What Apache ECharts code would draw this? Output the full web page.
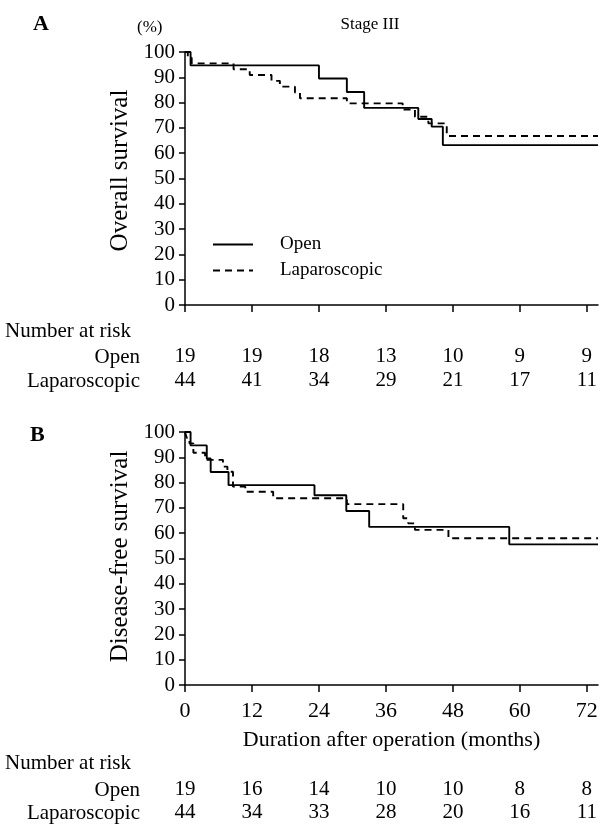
<!DOCTYPE html>
<html>
<head>
<meta charset="utf-8">
<script src="https://cdn.jsdelivr.net/npm/echarts@6/dist/echarts.min.js"></script>
<style>
html,body{margin:0;padding:0;background:#fff;}
#c{width:603px;height:825px;}
</style>
</head>
<body>
<div id="c"></div>
<script>
// ---- data ----
const timeTicks = [0, 12, 24, 36, 48, 60, 72];
const yTicks = [0, 10, 20, 30, 40, 50, 60, 70, 80, 90, 100];

// Panel A: overall survival
const osOpenT = [0, 1.0, 24, 29, 32.1, 41.8, 44.2, 46.2, 74];
const osOpenS = [100, 94.7, 89.5, 84.2, 77.9, 73.5, 70.5, 63.2, 63.2];
const osLapT = [0, 0.5, 1.2, 8.7, 11.6, 15.5, 17.0, 19.7, 20.6, 29, 39.0, 41.2, 43.6, 46.9, 74];
const osLapS = [100, 97.7, 95.5, 93.2, 90.9, 88.6, 86.3, 84.0, 81.7, 79.7, 77.3, 74.4, 71.8, 66.8, 66.8];

// Panel B: disease-free survival
const dfsOpenT = [0, 1.0, 3.9, 4.6, 7.8, 23.2, 28.9, 33.0, 58.1, 74];
const dfsOpenS = [100, 94.7, 89.5, 84.2, 79.0, 75.0, 68.8, 62.5, 55.6, 55.6];
const dfsLapT = [0, 0.3, 0.8, 1.5, 3.6, 6.8, 7.6, 8.6, 10.8, 15.8, 29, 39.1, 40.0, 41.2, 47.2, 74];
const dfsLapS = [100, 97.7, 95.5, 91.8, 89.0, 86.3, 84.3, 78.4, 76.4, 73.8, 71.5, 65.9, 63.9, 61.3, 58.0, 58.0];

// Numbers at risk
const riskOpenA = [19, 19, 18, 13, 10, 9, 9];
const riskLapA = [44, 41, 34, 29, 21, 17, 11];
const riskOpenB = [19, 16, 14, 10, 10, 8, 8];
const riskLapB = [44, 34, 33, 28, 20, 16, 11];

// ---- chart ----
const FONT = '"Liberation Serif", "Times New Roman", serif';
const zip = (t, s) => t.map((v, i) => [v, s[i]]);
const chart = echarts.init(document.getElementById('c'), null, {renderer: 'canvas'});

function mainX(grid, showLabels) {
  return {
    gridIndex: grid, type: 'value', min: 0, max: 74,
    axisLine: {show: true, lineStyle: {color: '#000', width: 1.5}},
    axisTick: {show: true, inside: false, length: 7, lineStyle: {color: '#000', width: 1.5}, customValues: timeTicks},
    axisLabel: {show: showLabels, customValues: timeTicks, margin: 15, color: '#000', fontFamily: FONT, fontSize: 22},
    splitLine: {show: false}
  };
}
function riskX(grid, arr, offset) {
  return {
    gridIndex: grid, type: 'value', min: 0, max: 74, position: 'bottom', offset: offset,
    axisLine: {show: false}, axisTick: {show: false}, splitLine: {show: false},
    axisLabel: {show: true, margin: 0, customValues: timeTicks, color: '#000', fontFamily: FONT, fontSize: 21,
      formatter: v => String(arr[timeTicks.indexOf(v)])}
  };
}
function mainY(grid, name, pad) {
  return {
    gridIndex: grid, type: 'value', min: 0, max: 100, interval: 10,
    name: name, nameLocation: 'middle', nameRotate: 90, nameGap: 52,
    nameTextStyle: {color: '#000', fontFamily: FONT, fontSize: 25, padding: pad},
    axisLine: {show: true, lineStyle: {color: '#000', width: 1.5}},
    axisTick: {show: true, inside: false, length: 6, lineStyle: {color: '#000', width: 1.5}},
    axisLabel: {show: true, margin: 10, color: '#000', fontFamily: FONT, fontSize: 21, customValues: yTicks},
    splitLine: {show: false}
  };
}

const solid = {color: '#000', width: 1.9, type: 'solid'};
const dashed = {color: '#000', width: 1.9, type: [7, 5]};

const xA = mainX(0, false);
const xB = mainX(1, true);
xB.name = 'Duration after operation (months)';
xB.nameLocation = 'middle';
xB.nameGap = 44;
xB.nameTextStyle = {color: '#000', fontFamily: FONT, fontSize: 22};

const option = {
  animation: false,
  backgroundColor: '#fff',
  textStyle: {fontFamily: FONT, color: '#000'},
  title: {
    text: 'Stage III', left: 365, top: 11, textAlign: 'center',
    textStyle: {fontFamily: FONT, fontSize: 17, fontWeight: 'normal', color: '#000'}
  },
  legend: {
    data: ['Open', 'Laparoscopic'], orient: 'vertical', left: 207, top: 230,
    itemWidth: 40, itemHeight: 12, itemGap: 7, selectedMode: false,
    itemStyle: {color: 'rgba(0,0,0,0)', borderWidth: 0, opacity: 0},
    textStyle: {fontFamily: FONT, fontSize: 19, color: '#000', padding: [0, 0, 0, 22]}
  },
  grid: [
    {left: 185, top: 52, width: 413, height: 253, containLabel: false},
    {left: 185, top: 432, width: 413, height: 253, containLabel: false}
  ],
  xAxis: [
    xA, riskX(0, riskOpenA, 41), riskX(0, riskLapA, 65),
    xB, riskX(1, riskOpenB, 94), riskX(1, riskLapB, 117)
  ],
  yAxis: [mainY(0, 'Overall survival', [0, 0, 0, 16]), mainY(1, 'Disease-free survival', [0, 0, 0, 4])],
  series: [
    {name: 'Open', type: 'line', step: 'end', xAxisIndex: 0, yAxisIndex: 0, symbol: 'none', lineStyle: solid, itemStyle: {color: '#000'}, data: zip(osOpenT, osOpenS)},
    {name: 'Laparoscopic', type: 'line', step: 'end', xAxisIndex: 0, yAxisIndex: 0, symbol: 'none', lineStyle: dashed, itemStyle: {color: '#000'}, data: zip(osLapT, osLapS)},
    {name: 'Open', type: 'line', step: 'end', xAxisIndex: 3, yAxisIndex: 1, symbol: 'none', lineStyle: solid, itemStyle: {color: '#000'}, data: zip(dfsOpenT, dfsOpenS)},
    {name: 'Laparoscopic', type: 'line', step: 'end', xAxisIndex: 3, yAxisIndex: 1, symbol: 'none', lineStyle: dashed, itemStyle: {color: '#000'}, data: zip(dfsLapT, dfsLapS)}
  ],
  graphic: [
    {type: 'text', left: 33, top: 13, style: {text: 'A', font: 'bold 22px ' + FONT, fill: '#000'}},
    {type: 'text', left: 137, top: 19, style: {text: '(%)', font: '17px ' + FONT, fill: '#000'}},
    {type: 'text', left: 30, top: 424, style: {text: 'B', font: 'bold 22px ' + FONT, fill: '#000'}},
    {type: 'text', x: 5, y: 331, style: {text: 'Number at risk', font: '21px ' + FONT, fill: '#000', verticalAlign: 'middle'}},
    {type: 'text', x: 140, y: 357, style: {text: 'Open', font: '21px ' + FONT, fill: '#000', align: 'right', verticalAlign: 'middle'}},
    {type: 'text', x: 140, y: 381, style: {text: 'Laparoscopic', font: '21px ' + FONT, fill: '#000', align: 'right', verticalAlign: 'middle'}},
    {type: 'text', x: 5, y: 763, style: {text: 'Number at risk', font: '21px ' + FONT, fill: '#000', verticalAlign: 'middle'}},
    {type: 'text', x: 140, y: 790, style: {text: 'Open', font: '21px ' + FONT, fill: '#000', align: 'right', verticalAlign: 'middle'}},
    {type: 'text', x: 140, y: 813, style: {text: 'Laparoscopic', font: '21px ' + FONT, fill: '#000', align: 'right', verticalAlign: 'middle'}}
  ]
};
chart.setOption(option);
</script>
</body>
</html>
